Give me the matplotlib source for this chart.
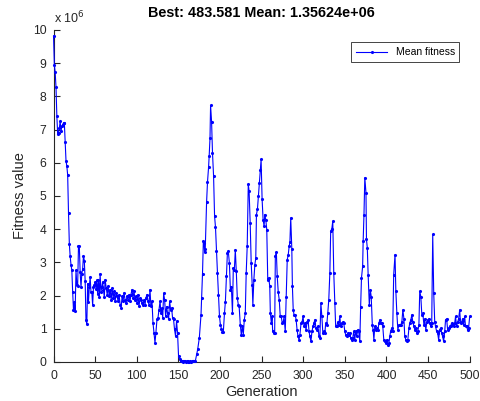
import matplotlib
matplotlib.use('Agg')
import matplotlib.pyplot as plt

plt.rcParams['font.family'] = ['Liberation Sans', 'DejaVu Sans']

early_fit = [9.82, 8.95, 8.72, 8.27, 7.4, 6.86, 6.9, 7.05, 7.25, 6.95, 7.1, 7.15, 7.2, 7.2,
             6.63, 6.06, 5.9, 5.63, 4.49, 3.56, 3.18, 2.93, 2.76, 2.11, 1.56, 1.81, 1.54,
             2.76, 2.31, 2.3, 3.5, 3.48, 2.7, 2.25, 2.66, 2.8, 3.2, 3.05, 2.45, 1.25, 1.15,
             2.36, 1.81, 2.26, 2.56, 2.11, 2.11, 1.71, 2.26, 2.31, 2.41, 2.21, 2.46, 2.06,
             2.46, 1.96, 2.66, 2.11, 2.26, 2.41, 2.16, 1.96]

later = [
    (62, 2.48), (63.3, 2.23), (64.5, 2.03), (65.6, 2.28), (66.9, 1.98), (68, 2.18), (69.3, 1.87),
    (70.4, 2.23), (71.6, 1.93), (72.8, 2.13), (74, 1.83), (75.2, 2.08), (76.4, 1.98), (77.6, 1.83),
    (78.8, 2.03), (80, 1.73), (81.2, 1.63), (82.4, 1.98), (83.6, 1.83), (84.7, 2.08), (86, 1.87),
    (87, 1.77), (88.3, 1.98), (89.5, 1.87), (90.7, 2.03), (91.9, 1.83), (93, 2.03), (94.3, 2.18),
    (95.5, 1.93), (96.7, 2.13), (97.9, 1.87), (99, 1.98), (100.3, 1.77), (101.5, 2.03), (102.7, 1.68),
    (104, 1.93), (105, 1.87), (106.3, 1.77), (107.5, 1.73), (108.7, 1.87), (110, 1.73), (111, 1.93),
    (112.3, 2.03), (113.5, 1.83), (114.7, 1.73), (115.9, 2.18), (117, 1.68), (118.3, 1.83),
    (119.5, 1.18), (120.7, 0.88), (121.9, 0.58), (123, 0.88), (124.3, 1.28), (125.5, 1.33),
    (126.7, 1.57), (128, 1.83), (129, 1.47), (130.3, 1.63), (131.2, 1.33), (132.3, 2.07),
    (133.5, 1.87), (134.7, 1.37), (135.9, 1.67), (137, 1.47), (138.3, 1.28), (139.5, 1.83),
    (140.7, 1.57), (141.9, 1.63), (143, 1.33), (144.2, 1.28), (145.4, 0.98), (146.6, 0.78),
    (147.8, 1.23), (149, 0.88), (150.2, 0.18), (151.4, 0.08), (152.6, 0.03), (154, 0.02),
    (155, 0.02), (156, 0.01), (157, 0.02), (158, 0.02), (159, 0.01), (160, 0.02), (161, 0.01),
    (162, 0.02), (163, 0.01), (164, 0.02), (165, 0.01), (166, 0.02), (167, 0.02), (168, 0.02),
    (169, 0.02), (170.4, 0.03), (172, 0.23), (173.2, 0.38), (175.2, 0.73), (177.2, 1.42),
    (178, 1.94), (179, 2.66), (180, 3.63), (181, 3.58), (181.5, 3.3), (182.3, 3.4), (183.9, 4.81),
    (185, 5.42), (186.3, 5.87), (187, 6.2), (188, 6.74), (188.7, 7.73), (189.9, 7.24), (191, 6.3),
    (192.3, 5.6), (193.5, 4.39), (194.6, 4.06), (195.8, 3.35), (197, 2.67), (198.2, 2.02),
    (199.4, 1.37), (200.6, 1.1), (201.8, 1.0), (203, 0.9), (204, 0.9), (205.4, 1.47), (206.5, 1.82),
    (207.7, 2.58), (208.9, 3.28), (210, 3.33), (211.3, 2.98), (212.5, 2.17), (213.7, 2.27),
    (215, 1.47), (216, 2.83), (217.3, 2.78), (218.4, 3.38), (219.6, 2.73), (220.8, 1.93),
    (222, 1.73), (223, 1.68), (224.4, 1.12), (225.6, 0.82), (226.8, 1.07), (228, 0.82),
    (229.2, 1.27), (230.4, 1.47), (231.5, 2.68), (232.7, 3.48), (234, 5.35), (235, 5.14),
    (236.3, 4.18), (237.5, 2.98), (238.7, 2.33), (239.5, 1.72), (240.7, 2.48), (241.9, 2.93),
    (243, 3.13), (243.8, 4.44), (245, 4.6), (246.2, 5.0), (247.4, 5.4), (248.6, 5.78), (249.4, 6.1),
    (250.6, 4.9), (251.8, 4.29), (253, 4.09), (253.8, 4.44), (255, 4.29), (256.2, 3.99),
    (257.4, 2.48), (258.6, 2.53), (259.8, 2.28), (260.5, 1.48), (261.7, 1.17), (262.5, 1.37),
    (263.3, 0.92), (264.5, 0.87), (265.7, 0.87), (266.5, 3.2), (267.7, 3.3), (268.8, 2.58),
    (270, 2.1), (271.2, 1.87), (272.4, 1.37), (273.6, 1.37), (274.8, 1.17), (276, 1.2), (277, 1.37),
    (278.4, 0.92), (279.6, 1.97), (280.8, 3.08), (282, 3.23), (283.2, 3.5), (284, 3.6), (285, 4.34),
    (286.3, 3.4), (287, 2.28), (288, 1.57), (289, 1.42), (290.3, 1.42), (291.5, 1.27), (292.6, 0.97),
    (293.8, 0.77), (295, 0.67), (296, 0.82), (297.4, 1.17), (298.6, 1.2), (299.8, 1.37), (301, 1.07),
    (302, 1.17), (303.4, 0.97), (304.6, 1.2), (305.8, 1.27), (307, 0.92), (308, 0.77), (309.3, 0.62),
    (310.5, 0.92), (311.7, 1.07), (312.9, 1.17), (314, 1.27), (315.3, 1.02), (316.5, 0.97),
    (317.7, 1.07), (318.9, 0.77), (320, 0.72), (321.2, 1.77), (322.4, 1.37), (323.6, 0.87),
    (324.8, 0.92), (326, 0.87), (327, 1.17), (328.3, 1.12), (329.5, 1.47), (330.7, 1.87), (332, 2.68),
    (333, 3.94), (334.3, 4.0), (335.5, 4.24), (336.7, 2.68), (338, 1.77), (339, 1.07), (340.3, 1.07),
    (341.5, 1.2), (342.7, 1.12), (344, 1.37), (345, 1.07), (346.3, 1.17), (347.5, 1.2), (348.7, 1.17),
    (350, 0.92), (351, 0.82), (352.3, 0.77), (353.5, 0.87), (354.7, 0.82), (356, 0.87), (357, 0.72),
    (358.3, 0.67), (359.5, 0.72), (360.7, 0.92), (362, 0.67), (363, 0.92), (364.3, 0.77),
    (365.5, 0.97), (366.7, 0.92), (368, 0.62), (369, 1.67), (370, 2.53), (371.4, 2.88), (372, 3.63),
    (373, 4.44), (374, 5.55), (375.4, 5.1), (376, 3.69), (377, 3.44), (378, 2.63), (379.4, 1.72),
    (380.6, 2.17), (381.7, 1.97), (383, 1.12), (384, 0.97), (384.9, 0.67), (386, 1.07), (387.3, 0.97),
    (388.5, 1.02), (389.7, 0.97), (391, 1.17), (392, 1.27), (393.3, 1.17), (394.4, 1.17),
    (395.6, 1.07), (396.8, 0.67), (398, 0.62), (399, 0.57), (400.4, 0.67), (401.6, 0.52), (403, 0.57),
    (404, 0.77), (405, 0.92), (406.3, 1.02), (407.5, 0.92), (408.7, 2.63), (410.3, 3.23),
    (411.3, 2.13), (412.5, 1.47), (413.7, 0.97), (415, 1.12), (416, 1.12), (417.3, 1.12),
    (418.5, 1.2), (419.7, 1.57), (421, 1.3), (422, 0.77), (423.3, 0.67), (424.5, 0.62), (425.7, 0.67),
    (427, 1.02), (428, 1.17), (429.3, 1.27), (430.5, 1.42), (431.7, 1.2), (433, 1.07), (434, 0.97),
    (435.3, 1.02), (436.5, 0.87), (437.7, 0.92), (439, 1.12), (440, 2.13), (441.3, 1.97),
    (442.5, 1.42), (443.7, 1.47), (445, 1.12), (446, 1.3), (447.3, 0.97), (448.5, 1.2), (449.7, 1.27),
    (451, 1.3), (452, 1.17), (453.3, 1.07), (454.4, 1.17), (455.6, 3.84), (456.8, 2.08), (458, 1.2),
    (459, 1.07), (460.3, 0.92), (461.5, 0.87), (462.7, 0.67), (464, 0.97), (465, 1.02), (466.3, 0.87),
    (467.5, 0.77), (468.7, 0.62), (470, 0.92), (471, 1.27), (472.3, 1.3), (473.5, 0.97),
    (474.7, 1.02), (476, 1.07), (477, 1.07), (478.3, 1.17), (479.5, 1.12), (480.7, 1.07), (482, 1.17),
    (483, 1.37), (484.3, 1.07), (485.5, 1.2), (486.7, 1.3), (488, 1.57), (489, 1.17), (490.3, 1.2),
    (491.5, 1.3), (492.7, 1.12), (494, 1.37), (495, 1.07), (496.3, 1.07), (497.5, 0.97),
    (498.7, 1.02), (500, 1.37),
]

gens = list(range(len(early_fit))) + [g for g, v in later]
fit = early_fit + [v for g, v in later]

xticks = list(range(0, 501, 50))
yticks = list(range(0, 11))

grey = '#262626'

fig = plt.figure(figsize=(4.8, 4.01), dpi=100)
ax = fig.add_axes([0.1115, 0.0973, 0.867, 0.828])

ax.plot(gens, fit, color='blue', lw=0.8, marker='.', ms=2.5, label='Mean fitness',
        clip_on=False, zorder=3)

ax.set_xlim(0, 500)
ax.set_ylim(0, 10)
ax.set_xticks(xticks)
ax.set_yticks(yticks)
for s in ['top', 'right']:
    ax.spines[s].set_visible(False)
for s in ['left', 'bottom']:
    ax.spines[s].set_color(grey)
    ax.spines[s].set_linewidth(0.8)
ax.tick_params(direction='in', length=4, width=0.8, colors=grey, labelsize=8.7)
ax.tick_params(axis='x', pad=6)
ax.tick_params(axis='y', pad=5)

ax.set_title('Best: 483.581 Mean: 1.35624e+06', fontsize=10.4, fontweight='bold', pad=9)
ax.set_xlabel('Generation', fontsize=10.5, color=grey, labelpad=2)
ax.set_ylabel('Fitness value', fontsize=10.5, color=grey, labelpad=4)
ax.text(0.0, 1.012, 'x 10$^6$', transform=ax.transAxes, fontsize=9, color=grey,
        va='bottom', ha='left')

leg = ax.legend(loc='upper right', fontsize=7.5, fancybox=False, framealpha=1,
                edgecolor=grey, borderpad=0.45, handlelength=3.0,
                bbox_to_anchor=(0.988, 0.978))
leg.get_frame().set_linewidth(0.6)

fig.savefig('out.png', dpi=100)
